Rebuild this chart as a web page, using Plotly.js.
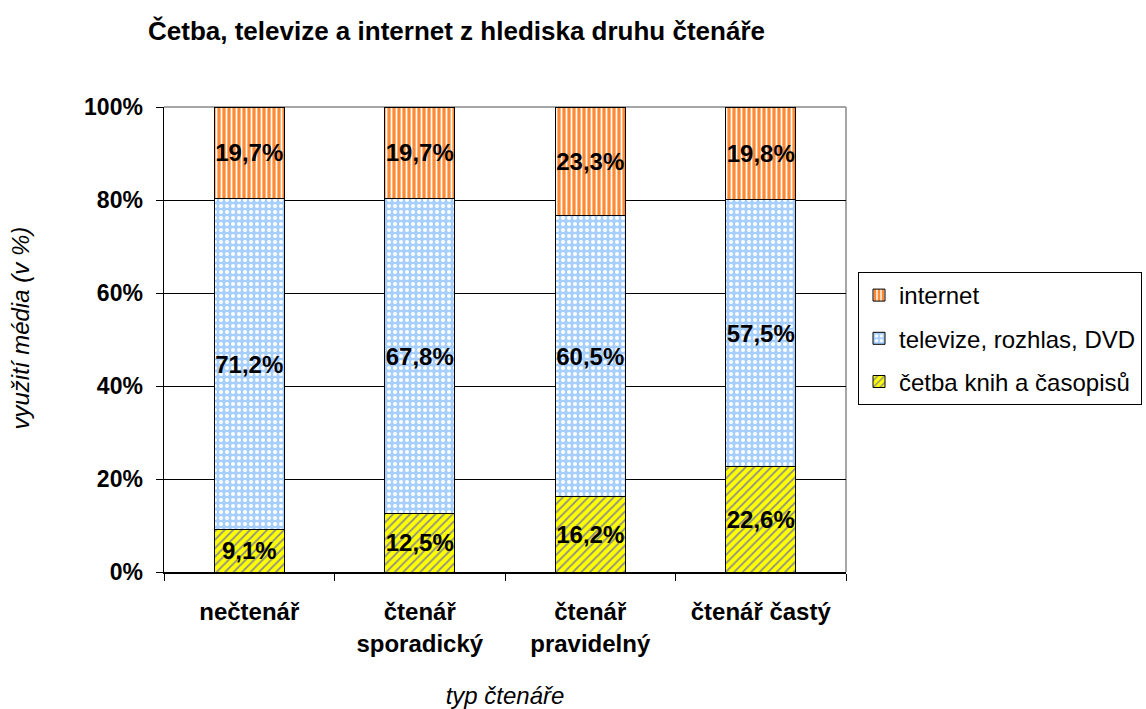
<!DOCTYPE html>
<html>
<head>
<meta charset="utf-8">
<script src="https://cdn.plot.ly/plotly-3.0.1.min.js"></script>
<style>html,body{margin:0;padding:0;background:#fff;}#chart{width:1146px;height:709px;}</style>
</head>
<body>
<div id="chart"></div>
<script>
const categories = ["nečtenář", "čtenář<br>sporadický", "čtenář<br>pravidelný", "čtenář častý"];
const cetba = [9.1, 12.5, 16.2, 22.6];
const televize = [71.2, 67.8, 60.5, 57.5];
const internet = [19.7, 19.7, 23.3, 19.8];
const seriesNames = ["četba knih a časopisů", "televize, rozhlas, DVD", "internet"];
const yTicks = [0, 20, 40, 60, 80, 100];
const yTickText = ["0%", "20%", "40%", "60%", "80%", "100%"];
const yTitle = "využití média (v %)";

const font = "Liberation Sans, Arial, sans-serif";
const labelFont = {family: font, size: 24, color: "#000", weight: "bold"};
function mk(name, vals, bg, fg, shape, size, solidity, rank) {
  return {
    type: "bar", name: name, x: categories, y: vals,
    width: 0.41, legendgroup: name, legendrank: rank,
    texttemplate: "<b>%{y:.1f}%</b>",
    textposition: "inside", insidetextanchor: "middle", textangle: 0,
    constraintext: "none", cliponaxis: false,
    textfont: labelFont,
    hoverinfo: "skip",
    marker: {
      color: bg,
      line: {color: "#000", width: 1},
      pattern: {shape: shape, fgcolor: fg, bgcolor: bg, size: size, solidity: solidity, fillmode: "replace"}
    }
  };
}
const data = [
  mk(seriesNames[0], cetba, "#FFFF00", "#8C8C8C", "/", 6, 0.3, 3),
  mk(seriesNames[1], televize, "#A6CFFF", "#FFFFFF", ".", 6, 0.35, 2),
  mk(seriesNames[2], internet, "#FF8A33", "#FFFFFF", "|", 5, 0.35, 1)
];
const layout = {
  width: 1146, height: 709,
  separators: ", ",
  paper_bgcolor: "#fff", plot_bgcolor: "#fff",
  margin: {l: 164, r: 300, t: 107, b: 137, autoexpand: false},
  barmode: "stack",
  showlegend: true,
  font: {family: font, size: 24, color: "#000"},
  title: {text: "<b>Četba, televize a internet z hlediska druhu čtenáře</b>", x: 148/1146, xanchor: "left", y: 1 - 31/709, yanchor: "middle", font: {family: font, size: 26, color: "#000"}},
  xaxis: {
    type: "category", tickson: "boundaries", ticks: "outside", ticklen: 7, tickcolor: "#000", tickwidth: 1,
    showline: true, linecolor: "#000", linewidth: 1.5,
    ticklabelstandoff: 18,
    tickfont: {family: font, size: 24, color: "#000", weight: "bold"},
    title: {text: "<i>typ čtenáře</i>", font: {family: font, size: 24, color: "#000"}, standoff: 36},
    automargin: false
  },
  yaxis: {
    range: [0, 100], tickmode: "array", tickvals: yTicks, ticktext: yTickText,
    ticks: "outside", ticklen: 7, tickcolor: "#000",
    showline: true, linecolor: "#000", linewidth: 1.5,
    showgrid: true, gridcolor: "#000", gridwidth: 1, zeroline: false,
    ticklabelstandoff: 8,
    tickfont: {family: font, size: 23, color: "#000", weight: "bold"},
    automargin: false
  },
  annotations: [
    {text: "<i>" + yTitle + "</i>", xref: "paper", yref: "paper", x: (20 - 164) / 682, y: 0.5 + 11 / 465,
     xanchor: "center", yanchor: "middle", textangle: -90, showarrow: false,
     font: {family: font, size: 24, color: "#000"}}
  ],
  shapes: [
    {type: "line", xref: "paper", yref: "paper", x0: 0, x1: 1, y0: 1, y1: 1, line: {color: "#888", width: 1.5}, layer: "between"},
    {type: "line", xref: "paper", yref: "paper", x0: 1, x1: 1, y0: 0, y1: 1, line: {color: "#888", width: 1.5}, layer: "between"}
  ],
  legend: {
    x: (858 - 164) / 682, xanchor: "left", y: (572 - 272) / 465, yanchor: "top",
    traceorder: "grouped", bordercolor: "#000", borderwidth: 1, bgcolor: "#fff",
    font: {family: font, size: 24, color: "#000"}, itemwidth: 30, tracegroupgap: 9
  }
};
Plotly.newPlot("chart", data, layout, {displayModeBar: false, staticPlot: true});
</script>
</body>
</html>
